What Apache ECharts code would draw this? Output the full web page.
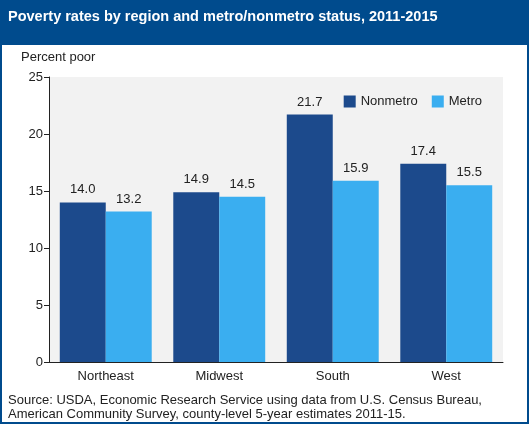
<!DOCTYPE html>
<html>
<head>
<meta charset="utf-8">
<script src="https://cdn.jsdelivr.net/npm/echarts@6/dist/echarts.min.js"></script>
<style>
	html, body { margin: 0; padding: 0; background: #fff; }
	#chart { width: 529px; height: 424px; box-sizing: border-box; border: 2px solid #004b8d; }
</style>
</head>
<body>
<div id="chart"></div>
<script>
	var regions = [ "Northeast", "Midwest", "South", "West" ];
	var nonmetro = [ 14.0, 14.9, 21.7, 17.4 ];
	var metro = [ 13.2, 14.5, 15.9, 15.5 ];
	var yTicks = [ 0, 5, 10, 15, 20, 25 ];

	var chart = echarts.init(document.getElementById("chart"));
	var font = "Arial, 'Liberation Sans', sans-serif";

	var labelOpt = {
		show : true,
		position : "top",
		color : "#222",
		fontSize : 13,
		fontFamily : font,
		distance : 6,
		formatter : function(p) { return p.value.toFixed(1); }
	};

	chart.setOption({
		animation : false,
		graphic : [
			{ type : "rect", left : 0, top : 0, shape : { width : 529, height : 43 }, style : { fill : "#004b8d" } },
			{ type : "text", left : 6, top : 7, style : { text : "Poverty rates by region and metro/nonmetro status, 2011-2015", fill : "#fff", font : "bold 14.5px " + font } },
			{ type : "text", left : 19, top : 49, style : { text : "Percent poor", fill : "#222", font : "13px " + font } },
			{ type : "text", left : 6, top : 391, style : { text : "Source: USDA, Economic Research Service using data from U.S. Census Bureau,\nAmerican Community Survey, county-level 5-year estimates 2011-15.", fill : "#222", font : "13px " + font, lineHeight : 14 } }
		],
		grid : { left : 47, right : 24, top : 75, bottom : 60, show : true, backgroundColor : "#f2f2f2", borderWidth : 0 },
		legend : {
			top : 88, right : 40, itemWidth : 12, itemHeight : 12, itemGap : 14,
			icon : "rect",
			textStyle : { fontSize : 13, fontFamily : font, color : "#222" },
			data : [ "Nonmetro", "Metro" ]
		},
		xAxis : {
			type : "category",
			data : regions,
			axisLine : { lineStyle : { color : "#222" } },
			axisTick : { show : false },
			axisLabel : { color : "#222", fontSize : 13, fontFamily : font, margin : 8 }
		},
		yAxis : {
			type : "value",
			min : yTicks[0], max : yTicks[yTicks.length - 1], interval : 5,
			axisLine : { show : true, lineStyle : { color : "#222" } },
			axisTick : { show : true, length : 5, lineStyle : { color : "#222" } },
			splitLine : { show : false },
			axisLabel : { color : "#222", fontSize : 13, fontFamily : font, margin : 6 }
		},
		series : [
			{ name : "Nonmetro", type : "bar", data : nonmetro, barGap : "0%", barCategoryGap : "19%", itemStyle : { color : "#1c4a8c" }, label : labelOpt },
			{ name : "Metro", type : "bar", data : metro, itemStyle : { color : "#3aaef0" }, label : labelOpt }
		]
	});
</script>
</body>
</html>
